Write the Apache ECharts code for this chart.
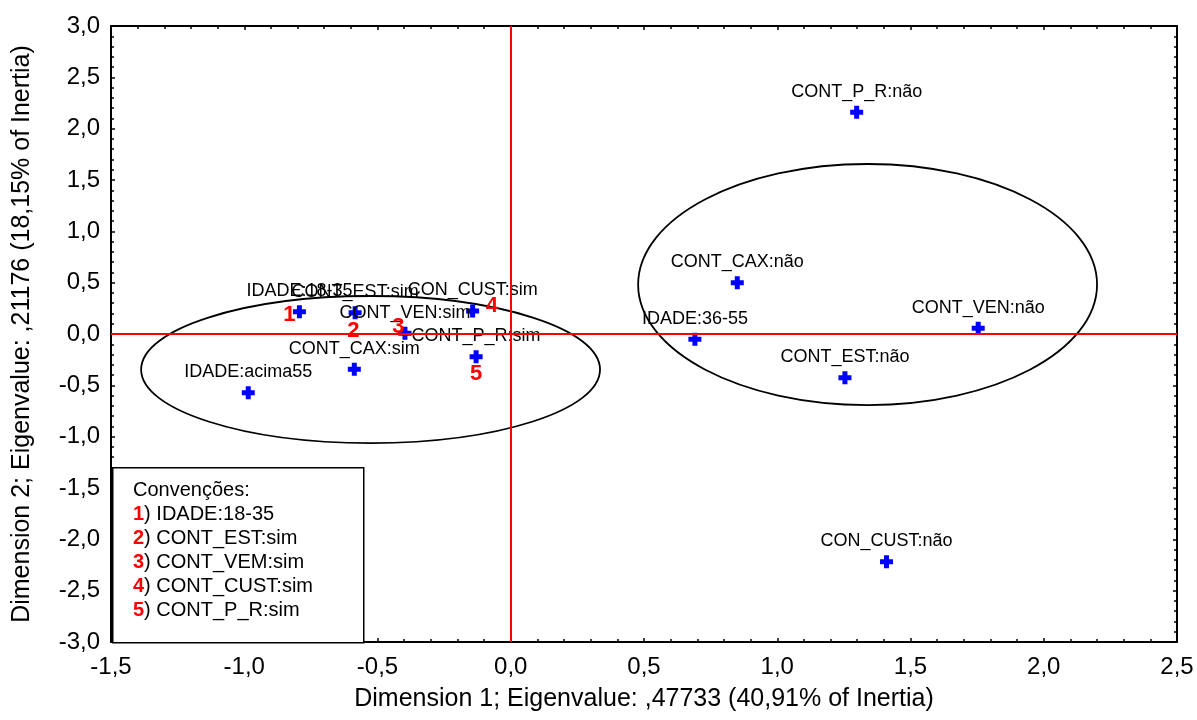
<!DOCTYPE html>
<html>
<head>
<meta charset="utf-8">
<script src="https://cdn.jsdelivr.net/npm/echarts@6/dist/echarts.min.js"></script>
<style>
html,body{margin:0;padding:0;background:#fff;}
#chart{width:1197px;height:720px;}
</style>
</head>
<body>
<div id="chart"></div>
<script>
// ---- data ----
const pointNames = ['IDADE:18-35','IDADE:36-55','IDADE:acima55','CONT_CAX:sim','CONT_CAX:não','CONT_EST:sim','CONT_EST:não','CONT_VEN:sim','CONT_VEN:não','CONT_P_R:sim','CONT_P_R:não','CON_CUST:sim','CON_CUST:não'];
const dim1 = [-0.793, 0.691, -0.985, -0.587, 0.850, -0.584, 1.254, -0.397, 1.754, -0.130, 1.298, -0.143, 1.410];
const dim2 = [0.217, -0.052, -0.572, -0.344, 0.500, 0.207, -0.425, 0.007, 0.055, -0.221, 2.160, 0.224, -2.218];

// numbered annotations (data coordinates)
const annotText = ['1','2','3','4','5'];
const annotX = [-0.831, -0.591, -0.422, -0.071, -0.130];
const annotY = [0.185, 0.032, 0.065, 0.273, -0.390];

// ellipses: centre x, centre y, half width, half height (data units)
const ellipseCX = [-0.526, 1.339];
const ellipseCY = [-0.346, 0.482];
const ellipseRX = [0.861, 0.861];
const ellipseRY = [0.716, 1.174];

// axis ranges / ticks
const xMin = -1.5, xMax = 2.5, xStep = 0.5;
const yMin = -3.0, yMax = 3.0, yStep = 0.5;

// texts
const xTitle = 'Dimension 1; Eigenvalue: ,47733 (40,91% of Inertia)';
const yTitle = 'Dimension 2; Eigenvalue: ,21176 (18,15% of Inertia)';
const legendTitle = 'Convenções:';
const legendNums = ['1','2','3','4','5'];
const legendItems = ['IDADE:18-35','CONT_EST:sim','CONT_VEM:sim','CONT_CUST:sim','CONT_P_R:sim'];

// ---- build ----
const FONT = '"Liberation Sans", Arial, sans-serif';
const fmt = v => v.toFixed(1).replace('.', ',');

const scatterData = pointNames.map((n, i) => ({ name: n, value: [dim1[i], dim2[i]] }));
const annotData = annotText.map((t, i) => ({ name: t, value: [annotX[i], annotY[i]] }));
const ellipseData = ellipseCX.map((c, i) => [c, ellipseCY[i], ellipseRX[i], ellipseRY[i]]);

const axisCommon = {
  type: 'value',
  axisLine: { show: true, onZero: false, lineStyle: { color: '#000', width: 2 } },
  axisTick: { show: true, inside: true, length: 4, lineStyle: { color: '#000', width: 1.5 } },
  minorTick: { show: true, splitNumber: 5, length: 3, lineStyle: { color: '#000', width: 1.5 } },
  splitLine: { show: false },
  minorSplitLine: { show: false }
};

const plus = 'path://M4,0H9V4H13V9H9V13H4V9H0V4H4Z';

let legendGraphics = [{
  type: 'rect', left: 112, top: 467, z: 100,
  shape: { width: 251, height: 175 },
  style: { fill: '#fff', stroke: '#000', lineWidth: 1.5 }
}, {
  type: 'text', left: 133, top: 480, z: 101,
  style: { text: legendTitle, font: '20px ' + FONT, fill: '#000' }
}];
legendItems.forEach((t, i) => {
  legendGraphics.push({
    type: 'text', left: 133, top: 504 + i * 24.2, z: 101,
    style: {
      text: '{n|' + legendNums[i] + '}) ' + t,
      font: '20px ' + FONT, fill: '#000',
      rich: { n: { fill: '#ff0000', fontWeight: 'bold', fontSize: 20, fontFamily: FONT } }
    }
  });
});

const option = {
  backgroundColor: '#fff',
  animation: false,
  textStyle: { fontFamily: FONT },
  grid: { left: 111, right: 20, top: 26, bottom: 78, containLabel: false, outerBoundsMode: 'none' },
  xAxis: [
    Object.assign({}, axisCommon, {
      min: xMin, max: xMax, interval: xStep, position: 'bottom',
      axisLabel: { formatter: fmt, color: '#000', fontSize: 24, fontFamily: FONT, margin: 13 },
      name: xTitle, nameLocation: 'middle', nameGap: 45,
      nameTextStyle: { color: '#000', fontSize: 25, fontFamily: FONT }
    }),
    Object.assign({}, axisCommon, {
      min: xMin, max: xMax, interval: xStep, position: 'top',
      axisLabel: { show: false }
    })
  ],
  yAxis: [
    Object.assign({}, axisCommon, {
      min: yMin, max: yMax, interval: yStep, position: 'left',
      axisLabel: { formatter: fmt, color: '#000', fontSize: 24, fontFamily: FONT, margin: 11 },
      name: yTitle, nameLocation: 'middle', nameGap: 76, nameRotate: 90,
      nameTextStyle: { color: '#000', fontSize: 25, fontFamily: FONT }
    }),
    Object.assign({}, axisCommon, {
      min: yMin, max: yMax, interval: yStep, position: 'right',
      axisLabel: { show: false }
    })
  ],
  series: [
    {
      type: 'custom',
      z: 1,
      silent: true,
      data: ellipseData,
      encode: { x: 0, y: 1 },
      renderItem: function (params, api) {
        const c = api.coord([api.value(0), api.value(1)]);
        const s = api.size([api.value(2), api.value(3)], [api.value(0), api.value(1)]);
        return {
          type: 'ellipse',
          shape: { cx: c[0], cy: c[1], rx: s[0], ry: s[1] },
          style: { fill: 'none', stroke: '#000', lineWidth: 1.8 }
        };
      }
    },
    {
      type: 'scatter',
      z: 2,
      data: [],
      silent: true,
      markLine: {
        silent: true,
        symbol: 'none',
        animation: false,
        label: { show: false },
        lineStyle: { color: '#ff0000', width: 2, type: 'solid' },
        data: [{ xAxis: 0 }, { yAxis: 0 }]
      }
    },
    {
      type: 'scatter',
      z: 3,
      symbol: plus,
      symbolSize: 13,
      itemStyle: { color: '#0000ff', opacity: 1 },
      label: {
        show: true, position: 'top', distance: 5,
        formatter: p => p.name,
        color: '#000', fontSize: 18, fontFamily: FONT
      },
      labelLayout: { hideOverlap: false },
      data: scatterData
    },
    {
      type: 'custom',
      z: 10,
      silent: true,
      data: annotData,
      encode: { x: 0, y: 1 },
      renderItem: function (params, api) {
        const c = api.coord([api.value(0), api.value(1)]);
        return {
          type: 'text',
          z2: 100,
          style: {
            text: annotText[params.dataIndex],
            x: c[0], y: c[1],
            align: 'center', verticalAlign: 'middle',
            fill: '#ff0000',
            font: 'bold 22px ' + FONT
          }
        };
      }
    }
  ],
  graphic: legendGraphics
};

const chart = echarts.init(document.getElementById('chart'), null, { renderer: 'canvas' });
chart.setOption(option);
</script>
</body>
</html>
